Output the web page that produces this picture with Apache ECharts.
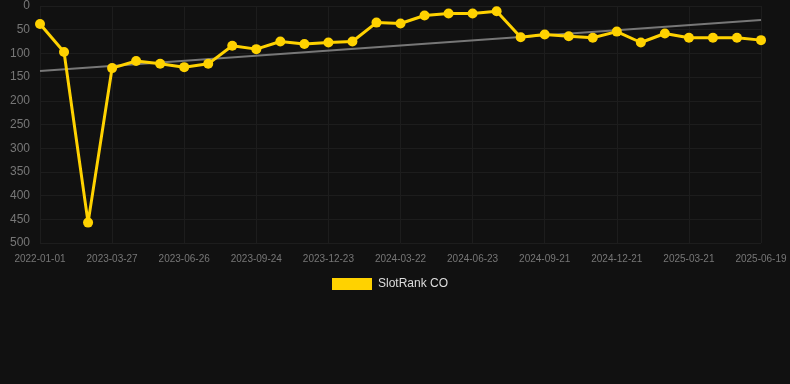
<!DOCTYPE html>
<html><head><meta charset="utf-8">
<script src="https://cdn.jsdelivr.net/npm/echarts@6/dist/echarts.min.js"></script>
<style>html,body{margin:0;padding:0;background:#111111;}#c{width:790px;height:384px;}</style>
</head><body><div id="c"></div>
<script>
const categories = ['2022-01-01','2023-01-26','2023-02-25','2023-03-27','2023-04-26','2023-05-26','2023-06-26','2023-07-26','2023-08-25','2023-09-24','2023-10-24','2023-11-23','2023-12-23','2024-01-22','2024-02-21','2024-03-22','2024-04-23','2024-05-23','2024-06-23','2024-07-23','2024-08-22','2024-09-21','2024-10-21','2024-11-21','2024-12-21','2025-01-20','2025-02-19','2025-03-21','2025-04-20','2025-05-20','2025-06-19'];
const rankValues = [38,97,457,131,116,122,129,122,84,91,75,80,77,75,35,37,20,16,16,11,66,60,64,67,54,77,58,67,67,67,72];
const trendStart = 137;
const trendEnd = 29.5;
const yTicks = {min:0, max:500, interval:50};
const seriesName = 'SlotRank CO';

const trendData = categories.map((c,i)=> i===0 ? trendStart : (i===categories.length-1 ? trendEnd : null));

const chart = echarts.init(document.getElementById('c'), null, {renderer:'canvas'});
chart.setOption({
  backgroundColor:'#111111',
  animation:false,
  grid:{left:40,right:29,top:6,bottom:141,containLabel:false},
  legend:{
    data:[seriesName], top:273, left:327,
    itemWidth:40, itemHeight:12, itemGap:10, icon:'rect',
    textStyle:{color:'#dddddd',fontSize:12,padding:[0,0,0,1],fontFamily:'Arial, Liberation Sans, sans-serif'}
  },
  xAxis:{
    type:'category', data:categories, boundaryGap:false,
    axisLine:{show:false}, axisTick:{show:false},
    axisLabel:{color:'#777777',fontSize:10,interval:2,margin:11,fontFamily:'Arial, Liberation Sans, sans-serif'},
    splitLine:{show:true,interval:2,lineStyle:{color:'#1d1d1d',width:1}}
  },
  yAxis:{
    type:'value', inverse:true, min:yTicks.min, max:yTicks.max, interval:yTicks.interval,
    axisLine:{show:false}, axisTick:{show:false},
    axisLabel:{color:'#777777',fontSize:12,margin:10,fontFamily:'Arial, Liberation Sans, sans-serif'},
    splitLine:{show:true,lineStyle:{color:'#1d1d1d',width:1}}
  },
  series:[
    {
      name:'trend', type:'line', data:trendData, connectNulls:true,
      symbol:'none', lineStyle:{color:'#777777',width:2}, z:1, silent:true
    },
    {
      name:seriesName, type:'line', data:rankValues,
      symbol:'circle', symbolSize:10,
      itemStyle:{color:'#FFD200'},
      lineStyle:{color:'#FFD200',width:3}, z:2
    }
  ]
});
</script></body></html>
